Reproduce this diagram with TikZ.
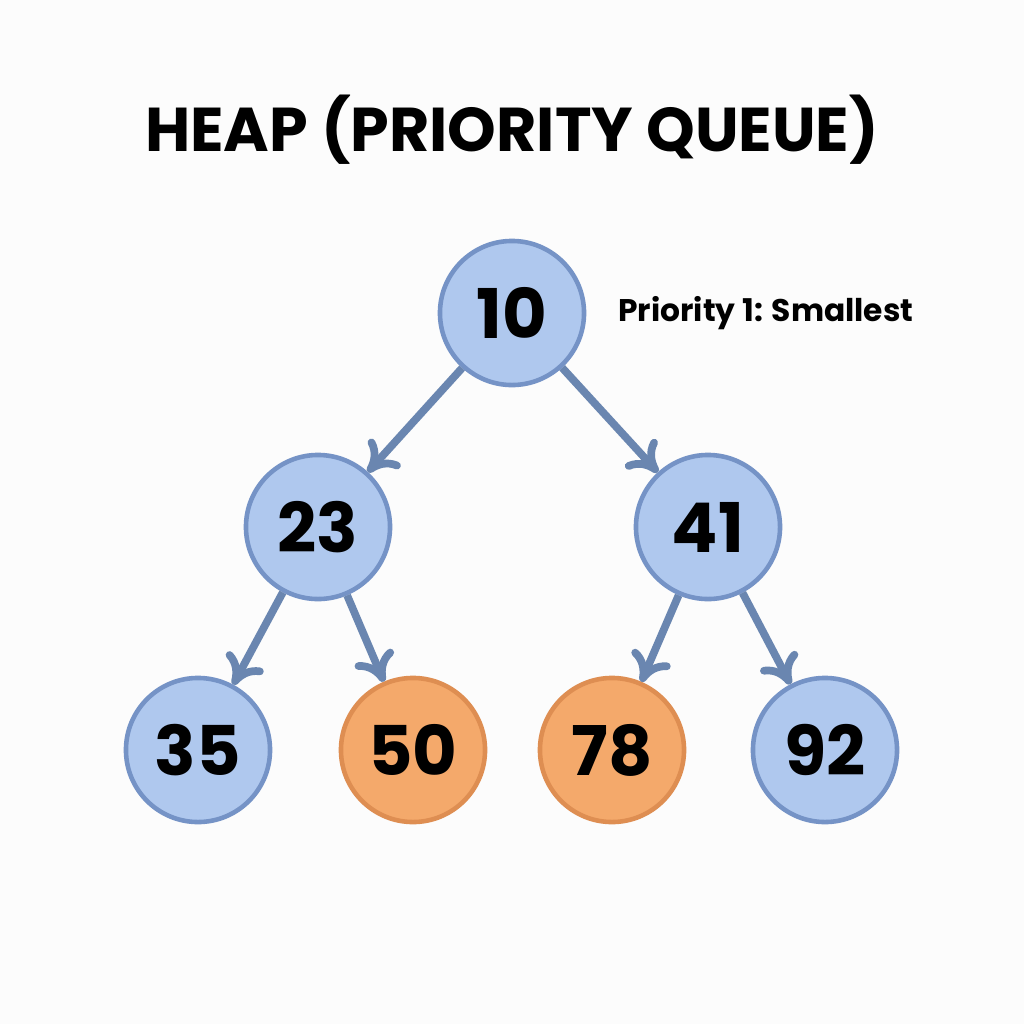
\documentclass[tikz,border=0pt]{standalone}
\usepackage{fontspec}
\setmainfont{Poppins}
\usetikzlibrary{positioning,arrows.meta}
\definecolor{heapblue}{HTML}{AFC8EE}
\definecolor{heapblueline}{HTML}{7593C6}
\definecolor{heaporange}{HTML}{F4A96B}
\definecolor{heaporangeline}{HTML}{DE8E52}
\definecolor{edgecol}{HTML}{6A86B0}
\begin{document}
\begin{tikzpicture}[x=0.01cm,y=-0.01cm,
  heapnode/.style={circle,minimum size=1.44cm,inner sep=0pt,line width=1.3pt,
    draw=heapblueline,fill=heapblue,font=\fontsize{19.5}{19.5}\selectfont\bfseries},
  hotnode/.style={heapnode,draw=heaporangeline,fill=heaporange},
  heapedge/.style={draw=edgecol,line width=2.2pt,-{To[length=8pt,width=12pt]}}]
\fill[white!99!black] (0,0) rectangle (1024,1024);
\useasboundingbox (0,0) rectangle (1024,1024);
\node (title) at (512,130) {\fontsize{17.6}{17.6}\selectfont\bfseries HEAP (PRIORITY QUEUE)};
\node[heapnode] (n10) at (512,313) {10};
\node[heapnode] (n23) at (318,527) {23};
\node[heapnode] (n41) at (708,527) {41};
\node[heapnode] (n35) at (198,750) {35};
\node[hotnode] (n50) at (413,750) {50};
\node[hotnode] (n78) at (612,750) {78};
\node[heapnode] (n92) at (825,750) {92};
\node[anchor=west] (prio) at (606,313) {\fontsize{8.9}{8.9}\selectfont\bfseries Priority 1: Smallest};
% edges
\draw[heapedge] (n10) -- (n23);
\draw[heapedge] (n10) -- (n41);
\draw[heapedge] (n23) -- (n35);
\draw[heapedge] (n23) -- (n50);
\draw[heapedge] (n41) -- (n78);
\draw[heapedge] (n41) -- (n92);
\end{tikzpicture}
\end{document}
